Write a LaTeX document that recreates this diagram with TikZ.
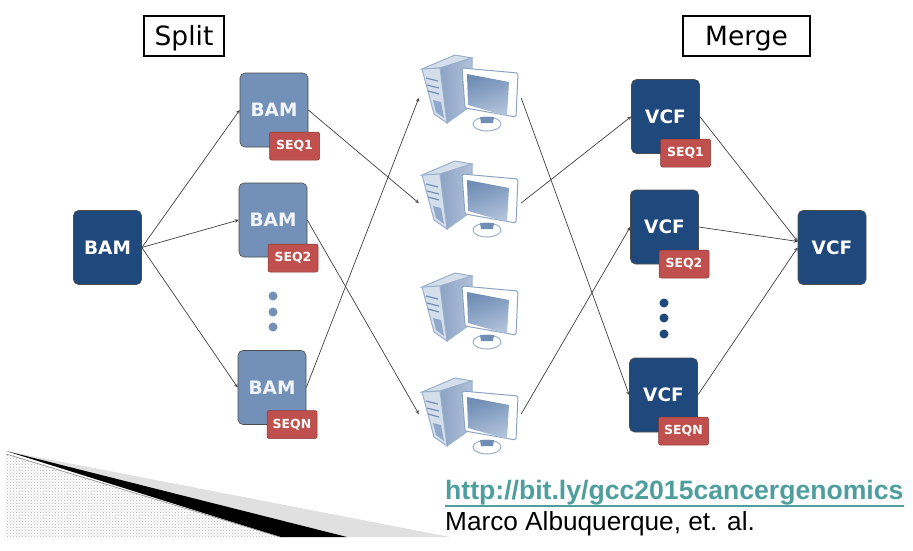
\documentclass[tikz,border=0pt]{standalone}
\usepackage{fontspec}
\setmainfont{DejaVu Sans}
\newfontfamily\slidefont{Liberation Sans}
\usepackage{xcolor}
\usetikzlibrary{patterns}
\definecolor{navy}{HTML}{1F497D}
\definecolor{steel}{HTML}{7391B8}
\definecolor{tagred}{HTML}{C0504D}
\definecolor{linkteal}{HTML}{4F9E9E}
\definecolor{pcblue}{HTML}{8FA8CB}
\definecolor{pcdark}{HTML}{6F8DB5}
\definecolor{pcpale}{HTML}{D5DFEC}

\begin{document}
\begin{tikzpicture}[
    x=1pt, y=-1pt,
    file/.style={rectangle, rounded corners=5pt, draw=black!70, line width=0.6pt, minimum width=68pt, minimum height=74pt, text=white, font=\bfseries\fontsize{18.5}{20}\selectfont},
    bamfile/.style={file, fill=steel, text=white!90!steel},
    vcffile/.style={file, fill=navy},
    tag/.style={rectangle, rounded corners=2pt, draw=black!30!tagred, line width=0.5pt, fill=tagred, minimum width=50pt, minimum height=28pt, inner sep=0pt, text=white, font=\bfseries\fontsize{12.5}{14}\selectfont},
    title/.style={rectangle, draw=black, line width=1.3pt, minimum height=40pt, text height=22pt, text depth=4pt, font=\fontsize{26.5}{30}\selectfont},
    pcbox/.style={rectangle, minimum width=102pt, minimum height=76pt, inner sep=0pt},
    dot/.style={circle, minimum size=9pt, inner sep=0pt},
    arrow/.style={->, >=stealth, line width=0.7pt, black!75},
    computer/.pic={
        \draw[pcdark!70!white, line width=1pt, fill=pcpale] (-48,-23) -- (-15,-37) -- (2,-34) -- (-30,-24) -- cycle;
        \draw[pcdark!70!white, line width=1pt, left color=pcdark!80!white, right color=pcblue!70!white] (-30,-24) -- (2,-34) -- (2,13) -- (-23,31) -- cycle;
        \draw[pcdark!70!white, line width=1pt, fill=pcpale] (-48,-23) -- (-30,-24) -- (-23,31) -- (-36,22) -- cycle;
        \draw[pcdark, line width=1.2pt] (-44,-14) -- (-32,-11) (-43,-7) -- (-31,-4) (-42,-1) -- (-31,2);
        \fill[pcblue] (-37,8) -- (-29,10) -- (-26,26) -- (-34,20) -- cycle;
        \draw[pcdark!70!white, line width=1pt, fill=white] (17,32) ellipse (14pt and 7pt);
        \fill[pcdark] (10,25) -- (24,25) -- (23,31) -- (11,31) -- cycle;
        \draw[pcdark!80!white, line width=1pt, fill=white, rounded corners=1.5pt] (-8,-24) -- (48,-19) -- (46,25) -- (-5,16) -- cycle;
        \shade[top color=pcdark, bottom color=pcblue!70!white, shading angle=20] (-3,-18) -- (39,-10) -- (37,24) -- (-2,13) -- cycle;
    }
]
    \useasboundingbox (0,0) rectangle (913,550);

    % corner wedge
    \fill[black!12] (6,451) -- (450,537) -- (280,537) -- cycle;
    \fill[black] (6,451) -- (347,537) -- (280,537) -- cycle;
    \fill[white] (6,453) -- (280,537) -- (6,537) -- cycle;
    \fill[pattern=crosshatch dots, pattern color=black!30] (6,453) -- (280,537) -- (6,537) -- cycle;
    \draw[black!45, line width=0.6pt] (6,454) -- (280,537);

    \node[title, minimum width=80pt] (split) at (184,36) {Split};
    \node[title, minimum width=127pt] (merge) at (746.5,36) {Merge};

    \node[vcffile] (bam) at (107.5,247.5) {BAM};
    \node[bamfile] (bam1) at (274,110) {BAM};
    \node[bamfile] (bam2) at (273,220) {BAM};
    \node[bamfile] (bamn) at (272,387.5) {BAM};
    \node[tag] (tagb1) at (294.5,146) {SEQ1};
    \node[tag] (tagb2) at (293,258) {SEQ2};
    \node[tag] (tagbn) at (292,424.5) {SEQN};

    \node[dot, fill=steel] (dotb1) at (273,296) {};
    \node[dot, fill=steel] (dotb2) at (273,312) {};
    \node[dot, fill=steel] (dotb3) at (273,327) {};

    \node[pcbox] (pc1) at (470,98) {};
    \node[pcbox] (pc2) at (470,203) {};
    \node[pcbox] (pc3) at (470,310) {};
    \node[pcbox] (pc4) at (470,414) {};
    \pic at (470,92) {computer};
    \pic at (470,198) {computer};
    \pic at (470,310) {computer};
    \pic at (470,415) {computer};

    \node[vcffile] (vcf1) at (665.5,116.5) {VCF};
    \node[vcffile] (vcf2) at (664.5,227) {VCF};
    \node[vcffile] (vcfn) at (663.5,395) {VCF};
    \node[vcffile] (vcf) at (832,247.5) {VCF};
    \node[tag] (tagv1) at (685.5,153) {SEQ1};
    \node[tag] (tagv2) at (684,264) {SEQ2};
    \node[tag] (tagvn) at (683.5,431) {SEQN};

    \node[dot, fill=navy] (dotv1) at (664,303) {};
    \node[dot, fill=navy] (dotv2) at (664,318) {};
    \node[dot, fill=navy] (dotv3) at (664,334) {};

    \draw[arrow] (bam.east) -- (bam1.west);
    \draw[arrow] (bam.east) -- (bam2.west);
    \draw[arrow] (bam.east) -- (bamn.west);
    \draw[arrow] (bam1.east) -- (pc2.west);
    \draw[arrow] (bam2.east) -- (pc4.west);
    \draw[arrow] (bamn.east) -- (pc1.west);
    \draw[arrow] (pc1.east) -- (vcfn.west);
    \draw[arrow] (pc2.east) -- (vcf1.west);
    \draw[arrow] (pc4.east) -- (vcf2.west);
    \draw[arrow] (vcf1.east) -- (vcf.170);
    \draw[arrow] (vcf2.east) -- (vcf.170);
    \draw[arrow] (vcfn.east) -- (vcf.west);

    \node[anchor=west, inner sep=0pt, text=linkteal, font=\slidefont\bfseries\fontsize{26.6}{28}\selectfont] (link) at (445,493) {http://bit.ly/gcc2015cancergenomics};
    \draw[linkteal, line width=1.8pt] (link.south west) -- (link.south east);
    \node[anchor=west, inner sep=0pt, font=\slidefont\fontsize{26.2}{28}\selectfont] (credit) at (445,524) {Marco Albuquerque, et. al.};
\end{tikzpicture}
\end{document}
